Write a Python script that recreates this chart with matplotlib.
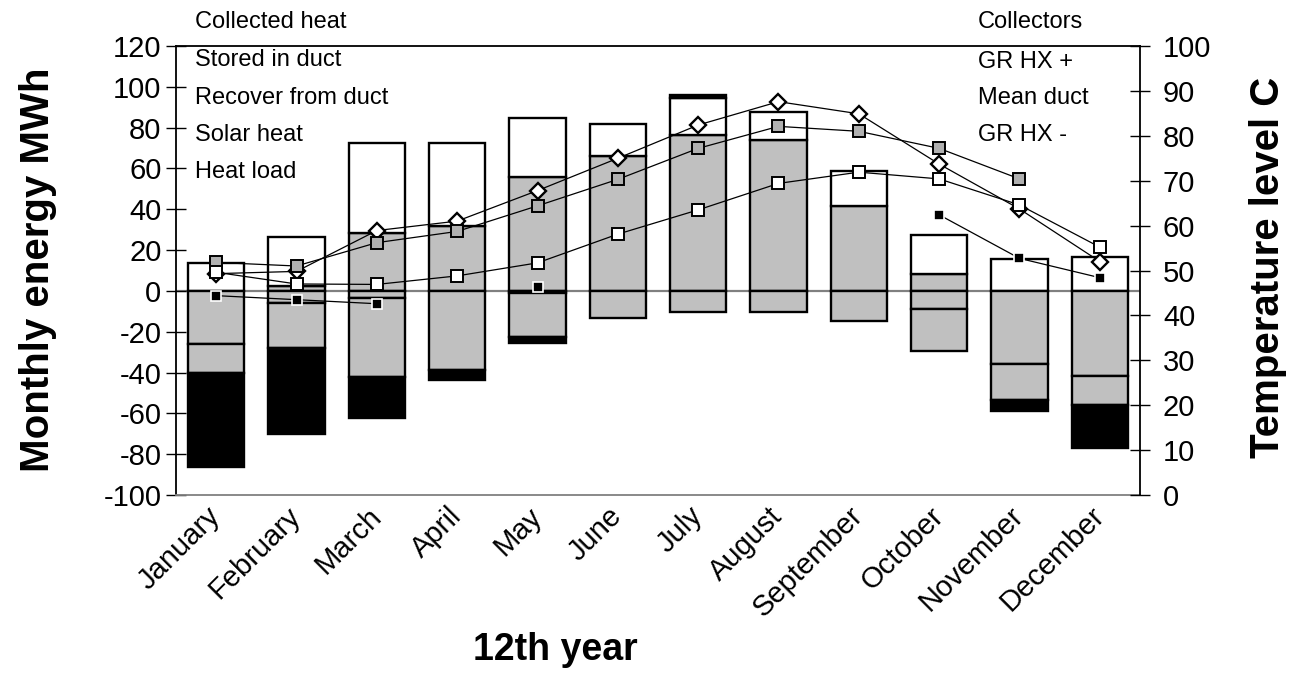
import numpy as np
import matplotlib
matplotlib.use("Agg")
import matplotlib.pyplot as plt

plt.rcParams['font.family'] = ['Liberation Sans', 'DejaVu Sans']

months = ['January', 'February', 'March', 'April', 'May', 'June', 'July',
          'August', 'September', 'October', 'November', 'December']

# ---- energy (left axis, MWh) : levels ----
stored_in_duct = [0, 2.5, 28.5, 31.8, 55.6, 66.2, 76.4, 73.9, 41.6, 8.2, 0, 0]          # grey, positive
collected_heat = [13.5, 26.5, 72.6, 72.6, 84.5, 81.6, 94.4, 87.8, 58.7, 27.4, 15.6, 16.7]  # white top
collected_cap = [0, 0, 0, 0, 0, 0, 1.6, 0, 0, 0, 0, 0]                                  # black cap
solar_heat = [-26.1, -6.1, -3.7, -38.8, -0.9, -13.5, -10.2, -10.2, -14.6, -9.1, -36.0, -41.8]
recover_from_duct = [-40.1, -27.9, -42.1, -38.8, -22.8, -13.5, -10.2, -10.2, -14.6, -29.4, -53.5, -56.0]
heat_load = [-86.2, -69.9, -62.5, -43.7, -25.4, -13.5, -10.2, -10.2, -14.6, -29.4, -58.8, -77.2]

# ---- temperatures (right axis, C) ----
nan = np.nan
collectors = [49.3, 49.8, 58.9, 61.0, 67.8, 75.0, 82.4, 87.6, 84.9, 73.7, 63.7, 52.0]
gr_hx_plus = [51.8, 51.0, 56.2, 58.7, 64.4, 70.3, 77.2, 82.1, 81.0, 77.2, 70.4, nan]
mean_duct = [49.6, 47.0, 46.9, 48.8, 51.7, 58.1, 63.5, 69.4, 71.9, 70.4, 64.6, 55.2]
gr_hx_minus = [44.4, 43.5, 42.6, nan, 46.3, nan, nan, nan, nan, 62.4, 52.7, 48.4]

left_ticks = list(range(-100, 121, 20))
right_ticks = list(range(0, 101, 10))

GREY = '#c0c0c0'
W, H = 1302, 681
fig = plt.figure(figsize=(W / 100, H / 100), dpi=100)
ax = fig.add_axes([176 / W, 1 - 495 / H, (1140 - 176) / W, (495 - 46) / H])

x = np.arange(len(months))
bw = 0.70


def seg(lo, hi, color):
    lo = np.asarray(lo, float)
    hi = np.asarray(hi, float)
    h = hi - lo
    m = np.abs(h) > 1e-9
    ax.bar(x[m], h[m], bottom=lo[m], width=bw, color=color,
           edgecolor='black', linewidth=1.7, zorder=2)


zeros = np.zeros(len(months))
pos_top = np.asarray(collected_heat) + np.asarray(collected_cap)
seg(zeros, stored_in_duct, GREY)
seg(stored_in_duct, collected_heat, 'white')
seg(collected_heat, pos_top, 'black')
seg(zeros, solar_heat, GREY)
seg(solar_heat, recover_from_duct, GREY)
seg(recover_from_duct, heat_load, 'black')

ax.axhline(0, color='#808080', lw=1.6, zorder=1.5)

ax.set_xlim(-0.5, len(months) - 0.5)
ax.set_ylim(-100, 120)
ax.set_yticks(left_ticks)
ax.set_yticklabels([str(t) for t in left_ticks], fontsize=21)
ax.set_xticks(x)
ax.set_xticklabels(months, rotation=45, ha='right', va='center',
                   rotation_mode='anchor', fontsize=21)
ax.tick_params(axis='x', length=0, pad=12)
ax.tick_params(axis='y', direction='inout', length=15, width=1, pad=3)

for s in ['left', 'top']:
    ax.spines[s].set_color('black')
    ax.spines[s].set_linewidth(1.3)
ax.spines['bottom'].set_color('#808080')
ax.spines['bottom'].set_linewidth(1.3)
ax.spines['right'].set_visible(False)

ax2 = ax.twinx()
ax2.set_ylim(0, 100)
ax2.set_yticks(right_ticks)
ax2.set_yticklabels([str(t) for t in right_ticks], fontsize=21)
ax2.tick_params(axis='y', direction='inout', length=15, width=1, pad=9)
for s in ['left', 'top', 'bottom']:
    ax2.spines[s].set_visible(False)
ax2.spines['right'].set_linewidth(1.3)

ax2.plot(x, collectors, color='black', lw=0.9, marker='D', ms=8,
         mfc='white', mec='black', mew=1.7, zorder=3)
ax2.plot(x, gr_hx_plus, color='black', lw=0.9, marker='s', ms=8.5,
         mfc='#b0b0b0', mec='black', mew=1.4, zorder=4)
ax2.plot(x, mean_duct, color='black', lw=0.9, marker='s', ms=8.5,
         mfc='white', mec='black', mew=1.4, zorder=5)
ax2.plot(x, gr_hx_minus, color='black', lw=0.9, marker='s', ms=7,
         mfc='black', mec='white', mew=1.2, zorder=6)

# legend texts (keys are not visible in the original)
left_leg = ['Collected heat', 'Stored in duct', 'Recover from duct', 'Solar heat', 'Heat load']
left_y = [21.7, 60, 98.3, 135, 171.7]
for t, yy in zip(left_leg, left_y):
    fig.text(195 / W, 1 - yy / H, t, fontsize=17, ha='left', va='center')
right_leg = ['Collectors', 'GR HX +', 'Mean duct', 'GR HX -']
right_y = [21.7, 61.7, 98.3, 135]
for t, yy in zip(right_leg, right_y):
    fig.text(978 / W, 1 - yy / H, t, fontsize=17, ha='left', va='center')

fig.text(38 / W, 1 - 270 / H, 'Monthly energy MWh', rotation=90, fontsize=29,
         fontweight='bold', ha='center', va='center')
fig.text(1268 / W, 1 - 267 / H, 'Temperature level C', rotation=90, fontsize=29,
         fontweight='bold', ha='center', va='center')
fig.text(555 / W, 1 - 650 / H, '12th year', fontsize=27, fontweight='bold',
         ha='center', va='center')

fig.savefig('out.png', dpi=100)
